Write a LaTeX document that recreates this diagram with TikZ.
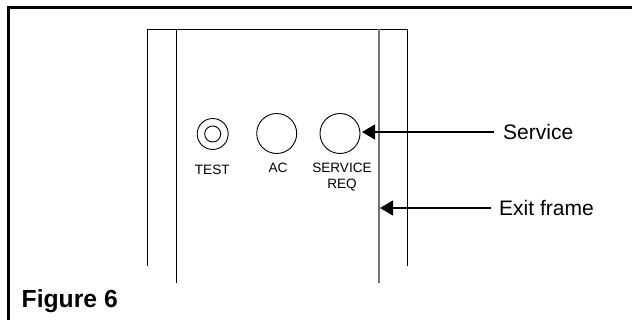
\documentclass[tikz,border=0pt]{standalone}
\usepackage{fontspec}
\setmainfont{Liberation Sans}
\usetikzlibrary{arrows.meta,positioning}

\begin{document}
\begin{tikzpicture}[x=1pt,y=-1pt,>={Triangle[length=13pt,width=15pt]}]
  \tikzstyle{lamp}=[circle,draw=black,line width=0.9pt,minimum size=40pt,inner sep=0pt]
  \tikzstyle{small}=[inner sep=0pt,font=\fontsize{13.6}{16}\selectfont]
  \tikzstyle{callout}=[inner sep=0pt,anchor=west,font=\fontsize{21}{24}\selectfont]
  \tikzstyle{pointer}=[->,line width=1.4pt]
  \useasboundingbox (0,0) rectangle (632,320);

  \draw [line width=3pt] (8.5,320) -- (8.5,7.5) -- (632,7.5); %border
  \draw [line width=0.9pt] (147.5,266) -- (147.5,29) -- (407,29) -- (407,266);
  \draw [line width=0.9pt] (176,29) -- (176,283);
  \draw [line width=1.4pt,black!55] (379,29) -- (379,283);

  \node [lamp,minimum size=31pt] (test) at (212.7,134) {};
  \node [lamp,minimum size=16pt] (testin) at (212.7,134) {};
  \node [lamp] (ac) at (276.7,133.5) {};
  \node [lamp] (svc) at (340,133.5) {};

  \node [small] (testl) at (212.3,169.5) {TEST};
  \node [small] (acl) at (278,168) {AC};
  \node [small] (svcl) at (342,168) {SERVICE};
  \node [small] (reql) at (342,185) {REQ};

  \node [callout] (service) at (503,132) {Service};
  \node [callout] (exitf) at (499,208) {Exit frame};
  \coordinate (exittip) at (380,208);
  \coordinate (svctip) at (362,132);

  \draw [pointer] (service.west) ++(-9,0) -- (svctip);
  \draw [pointer] (exitf.west) ++(-8,0) -- (exittip);

  \node [inner sep=0pt,anchor=base west,font=\bfseries\fontsize{24.7}{28}\selectfont] (figlabel) at (21.5,308) {Figure 6};
\end{tikzpicture}
\end{document}
